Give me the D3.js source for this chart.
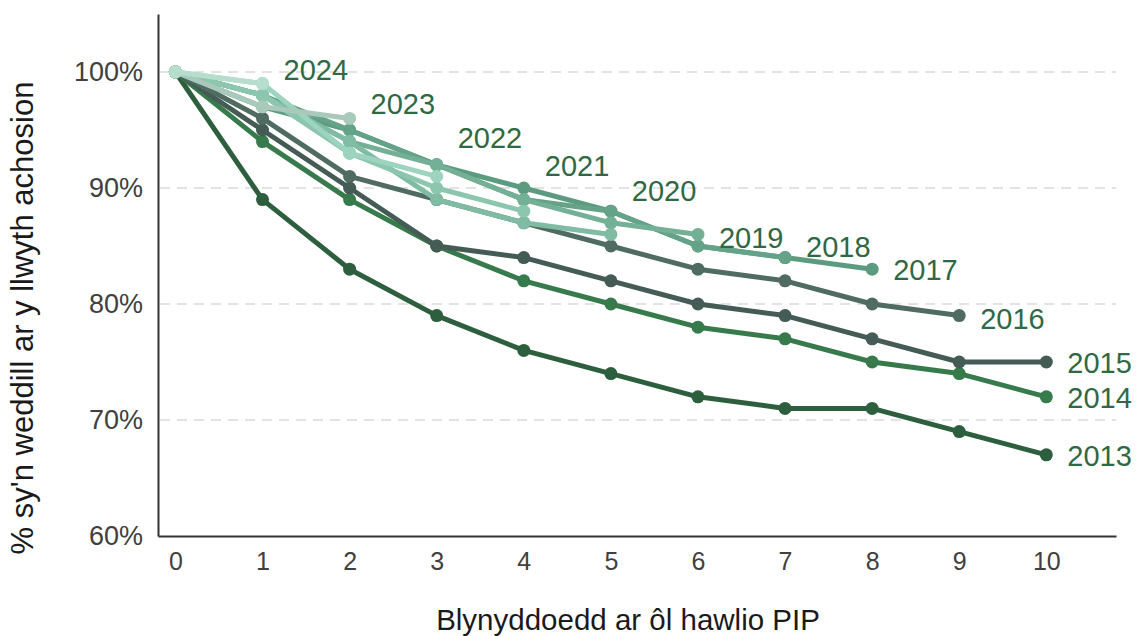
<!DOCTYPE html>
<html>
<head>
<meta charset="utf-8">
<script src="https://cdn.jsdelivr.net/npm/d3@7"></script>
<style>
  html, body { margin: 0; padding: 0; background: #ffffff; }
  svg { display: block; }
  text { font-family: "Liberation Sans", Arial, sans-serif; }
</style>
</head>
<body>
<svg id="chart" width="1136" height="636"></svg>
<script>
// Cohort of first PIP award, and share of each cohort still on the caseload
// after N years.
const cohorts = ["2013", "2014", "2015", "2016", "2017", "2018",
                 "2019", "2020", "2021", "2022", "2023", "2024"];
const yearsAfter = [0, 1, 2, 3, 4, 5, 6, 7, 8, 9, 10];
const pctTicks = [60, 70, 80, 90, 100];

const remain2013 = [100, 89, 83, 79, 76, 74, 72, 71, 71, 69, 67];
const remain2014 = [100, 94, 89, 85, 82, 80, 78, 77, 75, 74, 72];
const remain2015 = [100, 95, 90, 85, 84, 82, 80, 79, 77, 75, 75];
const remain2016 = [100, 96, 91, 89, 87, 85, 83, 82, 80, 79];
const remain2017 = [100, 97, 95, 92, 90, 88, 85, 84, 83];
const remain2018 = [100, 98, 95, 92, 89, 88, 85, 84];
const remain2019 = [100, 98, 94, 92, 89, 87, 86];
const remain2020 = [100, 98, 94, 89, 87, 86];
const remain2021 = [100, 98, 93, 90, 88];
const remain2022 = [100, 99, 93, 91];
const remain2023 = [100, 97, 96];
const remain2024 = [100, 99];

const remaining = [remain2013, remain2014, remain2015, remain2016, remain2017, remain2018,
                   remain2019, remain2020, remain2021, remain2022, remain2023, remain2024];

// Styling
const palette = ["#2d5f3e", "#377a4c", "#445c55", "#4f6b62", "#5d9b80", "#64a387",
                 "#73b096", "#80bca3", "#8cc6af", "#9dd4c0", "#a9c9bb", "#b6ddcd"];
// vertical pixel nudges so the end labels do not collide
const labelNudge = [1, 1, 1, 3, 1, -11, 3, -44, -45, -39, -15, -14];

const svg = d3.select("#chart");

const x = d3.scaleLinear().domain([-0.2, 10.8]).range([158, 1116]);
const y = d3.scaleLinear().domain([60, 105]).range([536, 14]);

// Gridlines
svg.append("g")
  .selectAll("line")
  .data(pctTicks.filter(d => d > 60))
  .join("line")
  .attr("x1", 160).attr("x2", 1116)
  .attr("y1", d => y(d)).attr("y2", d => y(d))
  .attr("stroke", "#e3e3e3")
  .attr("stroke-width", 2)
  .attr("stroke-dasharray", "10,7");

// Axes
const xAxis = svg.append("g")
  .attr("transform", `translate(0,${y(60)})`)
  .call(d3.axisBottom(x).tickValues(yearsAfter).tickSize(0).tickPadding(16).tickFormat(d3.format("d")));
xAxis.select(".domain").attr("stroke", "#333333").attr("stroke-width", 2);
xAxis.selectAll("text").attr("font-size", 25).attr("fill", "#404040")
  .attr("font-family", "'Liberation Sans', Arial, sans-serif");

const yAxis = svg.append("g")
  .attr("transform", `translate(${x(-0.2)},0)`)
  .call(d3.axisLeft(y).tickValues(pctTicks).tickSize(0).tickPadding(15).tickFormat(d => d + "%"));
yAxis.select(".domain").attr("stroke", "#333333").attr("stroke-width", 2);
yAxis.selectAll("text").attr("font-size", 27).attr("fill", "#404040")
  .attr("font-family", "'Liberation Sans', Arial, sans-serif");

// Axis titles
svg.append("text")
  .attr("x", 628).attr("y", 630)
  .attr("text-anchor", "middle")
  .attr("font-size", 29.5).attr("fill", "#1a1a1a")
  .text("Blynyddoedd ar ôl hawlio PIP");

svg.append("text")
  .attr("transform", "translate(33,318) rotate(-90)")
  .attr("text-anchor", "middle")
  .attr("font-size", 31).attr("fill", "#1a1a1a")
  .text("% sy'n weddill ar y llwyth achosion");

// Lines, points and end labels for each cohort
const line = d3.line().x((d, i) => x(i)).y(d => y(d));

const series = svg.append("g")
  .selectAll("g")
  .data(remaining)
  .join("g");

series.append("path")
  .attr("d", d => line(d))
  .attr("fill", "none")
  .attr("stroke", (d, i) => palette[i])
  .attr("stroke-width", 5)
  .attr("stroke-linejoin", "round");

series.each(function(vals, si) {
  d3.select(this).selectAll("circle")
    .data(vals)
    .join("circle")
    .attr("cx", (d, i) => x(i))
    .attr("cy", d => y(d))
    .attr("r", 6.5)
    .attr("fill", palette[si]);
});

series.append("text")
  .attr("x", d => x(d.length - 1) + 21)
  .attr("y", (d, i) => y(d[d.length - 1]) + labelNudge[i])
  .attr("dy", "0.35em")
  .attr("font-size", 29)
  .attr("fill", "#2f6944")
  .text((d, i) => cohorts[i]);
</script>
</body>
</html>
